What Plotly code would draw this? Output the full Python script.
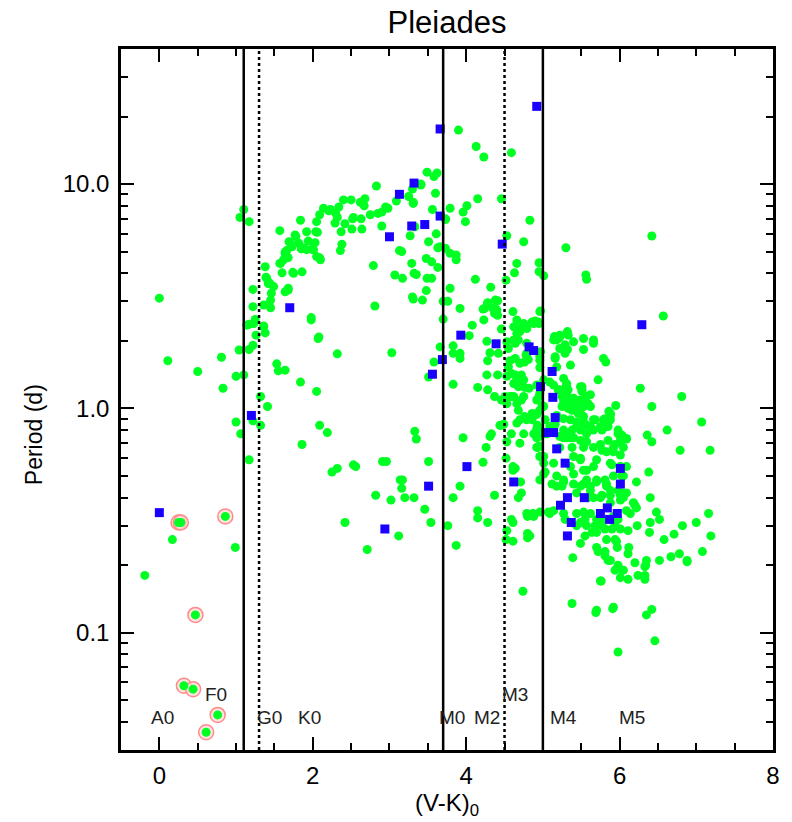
import math
import plotly.graph_objects as go

# ---------------- data ----------------
# green points: (V-K)0 colour and rotation period (days), grouped by region
grpA_vk = [0.00, 0.11, 0.50, 0.81, 0.83, 1.00, 1.10, 1.04, 1.17, 1.22,
           1.14, 1.23, 1.36, 1.26, 1.38, 1.32, 1.41, 1.00, 1.06, 1.22,
           1.32, 1.17, 0.99, 0.17, -0.19, 1.53, 1.55, 1.64, 1.84, 2.05,
           2.07, 2.32, 3.03, 1.98, 2.09, 2.19, 1.86, 2.25, 2.32, 2.53,
           2.56, 2.91, 2.96, 2.82, 3.02, 3.14, 2.42, 2.71, 3.12, 3.16]
grpA_p = [3.1, 1.63, 1.46, 1.69, 1.23, 1.39, 1.41, 1.82, 1.83, 1.91,
          2.35, 2.39, 2.33, 2.12, 2.17, 1.13, 1.02, 0.87, 0.77, 0.88,
          0.84, 0.59, 0.24, 0.26, 0.18, 1.58, 1.47, 1.48, 1.31, 1.19,
          2.05, 1.75, 1.77, 2.48, 0.84, 0.78, 0.69, 0.52, 0.54, 0.56,
          0.55, 0.58, 0.58, 0.41, 0.39, 0.48, 0.31, 0.235, 0.27, 0.44]

grpB_vk = [1.05, 1.10, 1.17, 1.22, 1.38, 1.39, 1.44, 1.46, 1.45, 1.22,
           1.36, 1.45, 1.25, 1.17, 1.36, 1.57, 1.58, 1.60, 1.64, 1.69,
           1.74, 1.68, 1.64, 1.78, 1.82, 1.85, 1.84, 1.86, 1.92, 1.94,
           1.98, 2.04, 2.05, 2.09, 2.09, 2.03, 2.08, 2.14, 2.21, 2.29,
           2.30, 2.37, 2.38, 2.36, 2.42, 2.34, 2.40, 2.50, 2.52, 2.63,
           2.64, 2.62, 2.68, 2.67, 2.75, 2.83, 2.85, 2.90, 2.95, 2.90,
           3.09, 2.79, 2.81, 3.07, 3.13, 1.66, 1.72, 1.77, 2.06, 2.01,
           2.23, 2.32, 2.51, 2.53, 2.98, 1.64, 1.73, 1.88, 1.92, 1.99,
           2.05, 1.57, 1.62, 1.68, 1.75, 2.10, 1.49, 1.42, 1.68, 1.40]
grpB_p = [7.1, 7.7, 6.8, 3.39, 4.28, 3.84, 3.61, 3.26, 3.04, 2.84,
          2.89, 2.81, 2.49, 2.37, 2.31, 6.2, 4.43, 4.02, 4.98, 5.53,
          4.04, 3.37, 3.31, 5.83, 5.44, 5.14, 6.9, 4.06, 6.13, 5.57,
          2.54, 6.13, 6.8, 7.3, 4.69, 5.48, 2.08, 7.8, 7.6, 6.7,
          7.4, 6.13, 5.39, 5.05, 6.65, 7.9, 8.5, 8.5, 7.0, 7.0,
          6.3, 8.3, 8.6, 8.0, 7.3, 9.8, 7.4, 6.5, 7.9, 7.5,
          8.4, 4.33, 2.86, 3.93, 5.05, 5.05, 5.39, 5.93, 6.1, 5.1,
          7.7, 7.1, 6.3, 7.1, 7.8, 4.9, 5.25, 5.17, 5.1, 5.12,
          4.75, 4.43, 4.6, 4.7, 4.0, 4.6, 3.49, 3.6, 3.43, 3.8]

grpC_vk = [3.25, 3.31, 3.41, 3.49, 3.58, 3.62, 3.60, 3.56, 3.33, 3.27,
           3.51, 3.61, 3.66, 3.63, 3.73, 3.79, 3.73, 3.79, 3.48, 3.55,
           3.63, 3.29, 3.32, 3.17, 3.49, 3.55, 3.48, 3.30, 3.70, 3.76,
           3.79, 3.41, 3.30, 3.31, 3.96, 4.01, 3.99, 3.73, 3.87, 3.87,
           3.35, 3.31, 3.43, 3.70, 3.92, 3.16, 3.83, 3.92, 3.83, 3.83,
           3.58, 3.66, 3.92, 4.04, 3.51, 3.33, 3.35, 3.17, 3.20, 3.32,
           3.46, 3.54, 3.51, 3.96, 3.92, 3.76, 3.87, 3.83, 3.90]
grpC_p = [8.8, 8.3, 10.0, 11.3, 10.8, 11.2, 9.1, 7.7, 6.45, 5.88,
          5.53, 6.0, 5.26, 5.2, 5.17, 7.8, 6.95, 4.91, 4.66, 4.5,
          4.25, 4.43, 4.0, 3.8, 3.8, 3.8, 3.35, 3.14, 3.0, 3.0,
          3.43, 9.9, 9.5, 8.2, 7.5, 8.0, 6.8, 7.0, 4.83, 4.6,
          3.95, 3.07, 3.04, 2.5, 2.79, 5.0, 1.9, 1.67, 1.28, 1.76,
          1.61, 1.88, 1.76, 2.11, 1.38, 0.79, 0.73, 0.48, 0.40, 0.40,
          0.355, 0.31, 0.58, 0.74, 0.45, 0.30, 0.245, 0.40, 17.4]

grpD_vk = [4.13, 4.23, 4.59, 4.15, 4.46, 4.12, 4.32, 4.28, 4.24, 4.38,
           4.40, 4.08, 4.23, 4.46, 4.52, 4.61, 4.66, 4.68, 4.75, 4.63,
           4.66, 4.75, 4.83, 4.53, 4.88, 4.94, 4.95, 4.95, 4.97, 4.36,
           4.41, 4.22, 4.28, 4.35, 4.37, 4.41, 4.27, 4.31, 4.28, 4.27,
           4.41, 4.15, 4.28, 4.37, 4.46, 4.49, 4.33, 4.26, 4.67, 4.75,
           4.53, 4.62, 4.55, 4.64, 4.70, 4.86, 4.90, 4.96, 4.95, 4.57,
           4.55, 4.78, 4.76, 4.81, 4.72, 4.70, 4.59, 4.53, 4.66, 4.62,
           4.76, 4.82, 4.96, 4.97, 4.96, 4.57, 4.62, 4.72, 4.68, 4.44,
           4.66, 4.76, 4.79, 4.92, 4.95, 4.96, 4.92, 4.93, 4.96, 4.93,
           4.70, 4.15, 4.15, 4.28, 4.37, 4.22, 4.31, 4.53, 4.52, 4.64,
           4.61, 4.71, 4.72, 4.59, 4.61, 4.53, 4.52, 4.61, 4.81, 4.80,
           4.80, 4.88, 4.68, 4.92, 4.95, 4.97, 4.42, 4.75, 4.70, 4.66,
           4.75, 4.68, 4.75, 4.64, 4.70, 4.64, 4.79, 4.79, 4.68, 4.66,
           4.62, 4.79, 4.88, 4.96, 4.96, 4.99, 4.96, 4.96, 4.92, 4.46,
           4.53, 4.59, 4.51, 4.86, 4.86, 4.92, 4.88, 4.59, 4.61, 4.79,
           4.80, 4.87, 4.96, 4.83, 4.74, 4.92, 4.94, 4.92, 4.94, 4.92]
grpD_p = [14.7, 13.2, 13.8, 8.6, 8.6, 3.76, 3.47, 2.94, 2.79, 3.04,
          2.75, 2.35, 2.48, 2.26, 3.73, 2.70, 2.48, 2.27, 2.35, 4.02,
          4.43, 5.53, 6.9, 5.88, 2.43, 2.43, 4.46, 4.07, 2.72, 2.79,
          2.6, 2.77, 2.96, 2.79, 2.65, 3.02, 1.99, 1.77, 1.63, 1.41,
          1.41, 1.24, 1.21, 1.13, 0.84, 0.85, 0.77, 0.67, 2.23, 2.39,
          1.98, 2.02, 1.85, 1.95, 2.2, 2.43, 2.45, 2.70, 2.39, 1.63,
          1.53, 1.73, 1.61, 1.65, 1.41, 1.33, 1.43, 1.39, 1.35, 1.29,
          1.24, 1.23, 1.70, 1.79, 1.52, 1.13, 1.13, 1.09, 0.98, 0.84,
          0.86, 0.92, 0.89, 1.09, 1.13, 0.98, 0.94, 0.84, 0.75, 0.80,
          0.70, 0.35, 0.325, 0.31, 0.41, 0.575, 0.75, 0.71, 0.60, 0.54,
          0.53, 0.47, 0.42, 0.32, 0.31, 0.285, 0.26, 0.256, 0.27, 0.265,
          0.33, 0.33, 0.40, 0.77, 0.68, 0.61, 1.76, 0.77, 0.89, 1.05,
          1.13, 1.25, 1.34, 1.41, 1.59, 1.67, 1.76, 1.95, 2.02, 2.16,
          2.31, 2.27, 2.39, 1.64, 1.17, 1.03, 0.61, 0.48, 0.67, 1.09,
          1.05, 1.13, 1.13, 0.95, 0.89, 0.81, 0.77, 0.77, 0.55, 0.34,
          0.277, 0.34, 0.345, 0.27, 0.153, 1.27, 0.82, 0.74, 0.67, 0.95]

grpE_vk = [5.01, 5.30, 5.56, 5.57, 6.42, 6.57, 5.15, 5.22, 5.32, 5.33,
           5.53, 5.66, 5.18, 5.20, 5.40, 5.53, 5.29, 5.32, 5.16, 5.18,
           5.27, 5.31, 5.33, 5.20, 5.25, 5.31, 5.42, 5.49, 5.51, 5.57,
           5.40, 5.44, 5.49, 5.53, 5.25, 5.33, 5.18, 5.27, 5.36, 5.44,
           5.53, 5.27, 5.38, 5.49, 5.57, 5.22, 5.31, 5.40, 5.49, 5.57,
           5.72, 6.27, 6.81, 6.42, 7.07, 6.62, 6.36, 6.42, 6.79, 7.18,
           6.38, 6.22, 6.40, 5.95, 5.86, 5.88, 5.81, 5.68, 5.57, 5.98,
           6.03, 6.09, 6.01, 5.92, 5.62, 5.59, 5.49, 5.36, 5.40, 5.27,
           5.25, 5.49, 5.51, 5.27, 5.31, 5.09, 5.01, 5.01, 5.66, 5.77,
           5.83, 5.88, 5.85, 5.75, 5.77, 5.83, 5.70, 5.66, 5.70, 5.81,
           5.83, 5.90, 6.01, 6.03, 5.88, 6.01, 5.36, 5.38, 5.40, 5.36,
           5.27, 5.40, 5.53, 5.49, 5.57, 5.62, 5.59, 5.25, 5.18, 5.14,
           5.22, 5.27, 5.09, 5.14, 5.16, 5.44, 5.31, 5.53, 5.49, 5.66,
           5.12, 5.18, 5.27, 5.40, 5.53, 5.62, 5.70, 5.83, 5.88, 5.77,
           5.66, 5.44, 6.03, 6.05, 6.20, 6.48, 6.52, 6.14, 6.09, 7.16,
           7.00, 6.82, 6.71, 7.19, 6.58, 7.08, 6.78, 6.67, 6.88, 6.40,
           6.39, 6.23, 6.11, 6.01, 5.94, 5.70, 5.64, 5.57, 5.53, 5.49,
           5.44, 5.55, 5.68, 5.77, 5.81, 5.90, 5.88, 5.98, 5.92, 5.62,
           5.70, 5.77, 5.53, 5.44, 5.27, 5.29, 5.14, 5.09, 5.49, 5.55,
           5.70, 5.72, 5.81, 5.81, 5.88, 5.85, 5.97, 5.94, 5.96, 5.83,
           6.12, 6.11, 5.98, 5.94, 6.03, 6.01, 6.11, 6.24, 6.33, 6.33,
           6.34, 6.35, 5.39, 5.76, 5.38, 5.92, 5.70, 6.42, 5.69, 5.91,
           6.35, 6.46, 5.98, 6.88, 6.52, 6.33, 6.20, 6.05, 5.75, 6.09,
           6.01, 5.94, 6.05, 5.92, 6.01, 5.88, 6.01, 6.09, 5.92, 6.05,
           5.98, 6.09, 6.01, 6.18, 6.22, 5.88, 5.75, 5.57, 5.49, 5.03,
           5.01, 5.05, 5.14, 5.22, 5.31, 5.66, 5.29, 5.22, 5.16, 5.29,
           5.36, 5.51, 5.57, 5.38, 5.44, 5.31, 5.22, 5.14, 5.27, 5.38,
           5.46, 5.53, 5.62, 5.79, 5.82, 5.88, 5.79, 5.66, 5.85, 5.75,
           5.62, 5.98, 5.01, 5.03, 5.01, 5.01, 5.07]
grpE_p = [3.9, 5.2, 3.93, 3.76, 5.87, 2.58, 2.09, 2.12, 2.2, 2.12,
          2.05, 2.02, 2.02, 2.05, 1.98, 1.83, 1.79, 1.83, 1.67, 1.53,
          1.36, 1.29, 1.21, 1.21, 1.13, 1.11, 1.09, 1.09, 1.25, 1.13,
          1.03, 0.98, 0.95, 0.92, 1.02, 1.0, 0.93, 0.90, 0.89, 0.87,
          0.87, 0.80, 0.80, 0.80, 0.77, 0.75, 0.74, 0.74, 0.72, 0.71,
          1.34, 1.23, 1.13, 1.02, 0.87, 0.80, 0.76, 0.71, 0.65, 0.65,
          0.52, 0.47, 0.40, 1.03, 0.97, 0.93, 0.90, 0.89, 0.84, 0.77,
          0.76, 0.73, 0.71, 0.67, 1.15, 1.05, 1.07, 1.05, 1.11, 1.09,
          1.17, 1.25, 1.21, 1.21, 1.27, 1.31, 1.02, 0.61, 0.80, 0.80,
          0.83, 0.89, 0.72, 0.69, 0.65, 0.64, 0.59, 0.55, 0.48, 0.48,
          0.45, 0.56, 0.55, 0.50, 0.41, 0.41, 0.74, 0.67, 0.61, 0.55,
          0.48, 0.51, 0.53, 0.45, 0.48, 0.43, 0.40, 0.45, 0.50, 0.57,
          0.67, 0.74, 0.83, 0.80, 0.85, 0.83, 0.77, 0.67, 0.60, 0.67,
          0.46, 0.45, 0.47, 0.46, 0.46, 0.45, 0.47, 0.46, 0.43, 0.41,
          0.40, 0.42, 0.42, 0.40, 0.37, 0.345, 0.32, 0.34, 0.35, 0.34,
          0.31, 0.30, 0.275, 0.27, 0.26, 0.23, 0.225, 0.218, 0.21, 0.31,
          0.28, 0.30, 0.285, 0.29, 0.30, 0.28, 0.28, 0.30, 0.31, 0.31,
          0.30, 0.32, 0.30, 0.30, 0.29, 0.29, 0.32, 0.32, 0.33, 0.34,
          0.32, 0.32, 0.345, 0.34, 0.34, 0.32, 0.35, 0.34, 0.25, 0.27,
          0.24, 0.23, 0.23, 0.22, 0.21, 0.21, 0.24, 0.26, 0.255, 0.26,
          0.24, 0.225, 0.20, 0.19, 0.19, 0.176, 0.173, 0.18, 0.18, 0.173,
          0.20, 0.21, 0.216, 0.17, 0.135, 0.13, 0.126, 0.127, 0.123, 0.128,
          0.12, 0.092, 0.082, 0.207, 0.21, 0.197, 0.205, 0.19, 0.17, 0.735,
          0.72, 0.69, 0.67, 0.64, 0.62, 0.57, 0.55, 0.55, 0.50, 0.50,
          0.43, 0.42, 0.39, 0.38, 0.36, 0.38, 0.40, 0.53, 0.59, 0.52,
          0.57, 0.77, 2.02, 2.08, 2.16, 1.95, 1.92, 1.85, 1.70, 1.76,
          1.56, 1.19, 1.13, 1.09, 1.05, 1.17, 1.21, 1.27, 1.05, 0.98,
          0.95, 1.02, 1.02, 1.67, 1.61, 0.95, 0.89, 0.89, 0.83, 0.83,
          0.83, 0.80, 1.34, 0.89, 0.77, 0.51, 0.345]

# blue squares
blue_vk = [0.00, 1.20, 1.70, 3.00, 3.13, 3.32, 3.29, 3.46, 3.66, 3.66,
           4.92, 4.47, 6.29, 3.93, 4.39, 4.82, 4.88, 3.69, 3.56, 5.12,
           4.97, 5.13, 5.16, 5.04, 5.14, 5.18, 4.01, 5.29, 6.01, 6.01,
           4.62, 3.51, 5.32, 5.23, 5.54, 5.84, 5.75, 5.97, 5.87, 5.37,
           5.32, 2.94]
blue_p = [0.343, 0.93, 2.81, 5.82, 9.0, 10.1, 6.5, 6.6, 7.2, 17.6,
          22.2, 5.4, 2.36, 2.12, 1.94, 1.88, 1.81, 1.65, 1.42, 1.46,
          1.25, 1.12, 0.91, 0.78, 0.78, 0.66, 0.55, 0.57, 0.54, 0.46,
          0.47, 0.45, 0.40, 0.37, 0.40, 0.36, 0.34, 0.34, 0.32, 0.31,
          0.27, 0.29]

# green points surrounded by a pink ring
ring_vk = [0.25, 0.28, 0.86, 0.47, 0.32, 0.44, 0.76, 0.61]
ring_p = [0.31, 0.31, 0.33, 0.12, 0.058, 0.056, 0.043, 0.036]

# spectral-type boundaries and labels
solid_lines_vk = [1.1, 3.7, 5.0]
dotted_lines_vk = [1.3, 4.5]
sptype_labels = ["A0", "F0", "G0", "K0", "M0", "M2", "M3", "M4", "M5"]
sptype_vk = [0.04, 0.74, 1.43, 1.96, 3.81, 4.27, 4.63, 5.27, 6.16]
sptype_p = [0.042, 0.053, 0.042, 0.042, 0.042, 0.042, 0.053, 0.042, 0.042]

x_ticks = [0, 2, 4, 6, 8]
x_minor = [0.5, 1, 1.5, 2.5, 3, 3.5, 4.5, 5, 5.5, 6.5, 7, 7.5]
y_ticks = [0.1, 1, 10]
y_ticktext = ["0.1", "1.0", "10.0"]
y_minor = [0.04, 0.05, 0.06, 0.07, 0.08, 0.09,
           0.2, 0.3, 0.4, 0.5, 0.6, 0.7, 0.8, 0.9,
           2, 3, 4, 5, 6, 7, 8, 9, 20, 30]
x_range = [-0.5, 8]
y_range = [0.03, 40]

# ---------------- figure ----------------
green_vk = grpA_vk + grpB_vk + grpC_vk + grpD_vk + grpE_vk
green_p = grpA_p + grpB_p + grpC_p + grpD_p + grpE_p

FONT = "Liberation Sans, Arial, Helvetica, sans-serif"
GREEN = "#00ff22"
BLUE = "#1a00ff"

fig = go.Figure()
fig.add_trace(go.Scatter(
    x=ring_vk, y=ring_p, mode="markers", hoverinfo="skip",
    marker=dict(symbol="circle", size=15, color="rgba(255,215,215,0.7)",
                line=dict(color="#ff8a8a", width=1.5))))
fig.add_trace(go.Scatter(
    x=green_vk + ring_vk, y=green_p + ring_p, mode="markers",
    marker=dict(symbol="circle", size=9, color=GREEN, line=dict(width=0))))
fig.add_trace(go.Scatter(
    x=blue_vk, y=blue_p, mode="markers",
    marker=dict(symbol="square", size=9, color=BLUE, line=dict(width=0))))

for xv in solid_lines_vk:
    fig.add_shape(type="line", xref="x", yref="paper", x0=xv, x1=xv, y0=0, y1=1,
                  line=dict(color="black", width=2.5))
for xv in dotted_lines_vk:
    fig.add_shape(type="line", xref="x", yref="paper", x0=xv, x1=xv, y0=0, y1=1,
                  line=dict(color="black", width=2.5, dash="dot"))

for lab, xv, yv in zip(sptype_labels, sptype_vk, sptype_p):
    fig.add_annotation(x=xv, y=math.log10(yv), text=lab, showarrow=False,
                       xanchor="center", yanchor="middle",
                       font=dict(family=FONT, size=19, color="#222222"))

# y-axis title (placed a little below the plot centre, as in the reference)
fig.add_annotation(text="Period (d)", xref="paper", yref="paper",
                   x=-0.134, y=0.45, xanchor="center", yanchor="middle",
                   textangle=-90, showarrow=False,
                   font=dict(family=FONT, size=23, color="black"))

axis_common = dict(showline=True, linewidth=2.5, linecolor="black", mirror="ticks",
                   ticks="inside", ticklen=13, tickwidth=2, tickcolor="black",
                   showgrid=False, zeroline=False,
                   tickfont=dict(family=FONT, size=24, color="black"))

fig.update_layout(
    width=792, height=822,
    margin=dict(l=121, r=16, t=49, b=72),
    paper_bgcolor="white", plot_bgcolor="white",
    showlegend=False,
    title=dict(text="Pleiades", x=0.5, xref="paper", xanchor="center",
               y=1 - 22 / 822, yref="container", yanchor="middle",
               font=dict(family=FONT, size=31, color="black")),
    xaxis=dict(range=x_range, tickmode="array", tickvals=x_ticks,
               ticklabelstandoff=2,
               minor=dict(tickmode="array", tickvals=x_minor, ticks="inside",
                          ticklen=7, tickwidth=2, tickcolor="black"),
               title=dict(text="(V-K)<sub>0</sub>", standoff=2,
                          font=dict(family=FONT, size=24, color="black")),
               **axis_common),
    yaxis=dict(type="log", range=[math.log10(y_range[0]), math.log10(y_range[1])],
               tickmode="array", tickvals=y_ticks, ticktext=y_ticktext,
               ticklabelstandoff=4,
               minor=dict(tickmode="array", tickvals=y_minor, ticks="inside",
                          ticklen=7, tickwidth=2, tickcolor="black"),
               **axis_common),
)

fig.write_html("out.html")
